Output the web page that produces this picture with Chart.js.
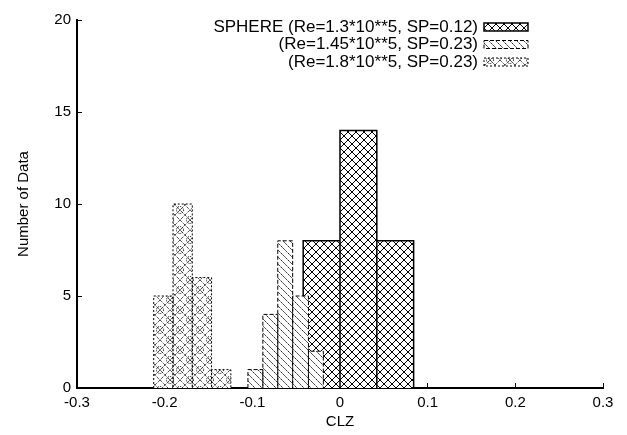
<!DOCTYPE html>
<html>
<head>
<meta charset="utf-8">
<script src="https://cdn.jsdelivr.net/npm/chart.js@4.4.0/dist/chart.umd.min.js"></script>
<style>
html, body { margin: 0; padding: 0; background: #fff; }
#chart-holder { width: 627px; height: 435px; }
</style>
</head>
<body>
<div id="chart-holder"><canvas id="myChart"></canvas></div>
<script>
// bin edges and counts
var sphereEdges = [-0.042, 0, 0.042, 0.084];
var sphereCounts = [8, 14, 8];
var re145Edges = [-0.105, -0.088, -0.071, -0.054, -0.036, -0.019];
var re145Counts = [1, 4, 8, 5, 2];
var re18Edges = [-0.2125, -0.1905, -0.1685, -0.1465, -0.1245];
var re18Counts = [5, 10, 6, 1];
var seriesLabels = [
    "SPHERE (Re=1.3*10**5, SP=0.12)",
    "(Re=1.45*10**5, SP=0.23)",
    "(Re=1.8*10**5, SP=0.23)"
];

var FONT = "'Liberation Sans', Arial, sans-serif";

function makeTile(size, drawFn) {
    var c = document.createElement("canvas");
    c.width = size;
    c.height = size;
    var g = c.getContext("2d");
    g.fillStyle = "#fff";
    g.fillRect(0, 0, size, size);
    drawFn(g, size);
    return document.createElement("canvas").getContext("2d").createPattern(c, "repeat");
}

var crossPattern = makeTile(8, function (g, s) {
    g.strokeStyle = "#000";
    g.lineWidth = 1;
    g.beginPath();
    g.moveTo(-1, -1); g.lineTo(s + 1, s + 1);
    g.moveTo(-1, s + 1); g.lineTo(s + 1, -1);
    g.stroke();
});

var hatchPattern = makeTile(7, function (g, s) {
    g.strokeStyle = "#111";
    g.lineWidth = 1;
    g.setLineDash([2, 1]);
    g.beginPath();
    g.moveTo(-1, -1); g.lineTo(s + 1, s + 1);
    g.stroke();
});

var fancyPattern = makeTile(20, function (g, s) {
    g.strokeStyle = "#000";
    g.lineWidth = 1;
    g.setLineDash([1, 1]);
    g.beginPath();
    g.moveTo(0, 0); g.lineTo(s, s);
    g.moveTo(s, 0); g.lineTo(0, s);
    g.moveTo(s / 2, 0); g.lineTo(s, s / 2); g.lineTo(s / 2, s); g.lineTo(0, s / 2); g.closePath();
    g.stroke();
    var centres = [[s / 2, 0], [0, s / 2], [s, s / 2], [s / 2, s]];
    for (var i = 0; i < centres.length; i++) {
        g.beginPath();
        g.arc(centres[i][0], centres[i][1], 3.5, 0, Math.PI * 2);
        g.stroke();
        g.fillStyle = "#000";
        g.fillRect(centres[i][0] - 0.5, centres[i][1] - 0.5, 1, 1);
    }
});

function histPoints(edges, counts) {
    var pts = [];
    for (var i = 0; i < counts.length; i++) {
        pts.push({x: edges[i], y: 0});
        pts.push({x: edges[i], y: counts[i]});
        pts.push({x: edges[i + 1], y: counts[i]});
        pts.push({x: edges[i + 1], y: 0});
    }
    return pts;
}

function histDataset(label, edges, counts, pattern, dash, width, order) {
    return {
        label: label,
        data: histPoints(edges, counts),
        backgroundColor: pattern,
        borderColor: "#000",
        borderWidth: width,
        borderDash: dash,
        fill: "origin",
        tension: 0,
        pointRadius: 0,
        pointHoverRadius: 0,
        order: order
    };
}

var data = {
    datasets: [
        histDataset(seriesLabels[0], sphereEdges, sphereCounts, crossPattern, [], 1.5, 3),
        histDataset(seriesLabels[1], re145Edges, re145Counts, hatchPattern, [4, 2], 1, 2),
        histDataset(seriesLabels[2], re18Edges, re18Counts, fancyPattern, [2, 2], 1, 1)
    ]
};

// gnuplot style key: text right aligned, sample box on the right
var keyPlugin = {
    id: "gnuKey",
    afterDraw: function (chart) {
        var ctx = chart.ctx;
        var textRight = 478, boxLeft = 484, boxW = 44, boxH = 8, top = 27, step = 17.5;
        ctx.save();
        ctx.font = "17px " + FONT;
        ctx.textAlign = "right";
        ctx.textBaseline = "middle";
        ctx.fillStyle = "#000";
        chart.data.datasets.forEach(function (ds, i) {
            var y = top + i * step;
            ctx.fillText(ds.label, textRight, y);
            ctx.fillStyle = ds.backgroundColor;
            ctx.fillRect(boxLeft, y - boxH / 2, boxW, boxH);
            ctx.setLineDash(ds.borderDash);
            ctx.lineWidth = ds.borderWidth;
            ctx.strokeStyle = "#000";
            ctx.strokeRect(boxLeft, y - boxH / 2, boxW, boxH);
            ctx.setLineDash([]);
            ctx.fillStyle = "#000";
        });
        ctx.restore();
    }
};

var ctx = document.getElementById("myChart");
var myChart = new Chart(ctx, {
    type: "line",
    data: data,
    plugins: [keyPlugin],
    options: {
        responsive: true,
        maintainAspectRatio: false,
        animation: false,
        events: [],
        layout: {padding: {top: 16, right: 24, left: 0, bottom: 0}},
        plugins: {
            legend: {display: false},
            tooltip: {enabled: false}
        },
        scales: {
            x: {
                type: "linear",
                min: -0.3,
                max: 0.3,
                ticks: {stepSize: 0.1, color: "#000", font: {family: FONT, size: 15}, padding: 11, maxRotation: 0},
                grid: {drawOnChartArea: false, tickLength: -5, color: "#000", lineWidth: 1},
                border: {color: "#000", width: 2},
                title: {display: true, text: "CLZ", color: "#000", font: {family: FONT, size: 15}, padding: {top: 0}},
                afterFit: function (s) { s.height = 47; }
            },
            y: {
                min: 0,
                max: 20,
                ticks: {stepSize: 5, color: "#000", font: {family: FONT, size: 15}, padding: 11},
                grid: {drawOnChartArea: false, tickLength: -5, color: "#000", lineWidth: 1},
                border: {color: "#000", width: 2},
                title: {display: true, text: "Number of Data", color: "#000", font: {family: FONT, size: 15}, padding: {top: 15}},
                afterFit: function (s) { s.width = 77; }
            }
        }
    }
});
</script>
</body>
</html>
